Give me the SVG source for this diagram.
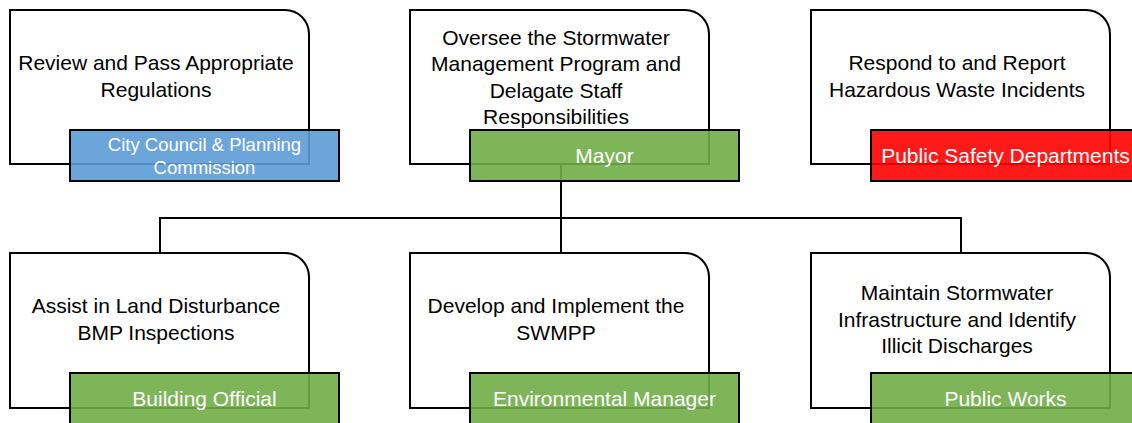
<svg xmlns="http://www.w3.org/2000/svg" width="1132" height="423" viewBox="0 0 1132 423">
<style>
.box{fill:#ffffff;stroke:#000000;stroke-width:2}
.lab{stroke:#000000;stroke-width:2;fill-opacity:0.9}
.blue{fill:#5b9bd5}
.green{fill:#70ad47}
.red{fill:#ff0000}
.t{font-family:"Liberation Sans",Arial,Helvetica,sans-serif;font-size:21px;fill:#000000;text-anchor:middle}
.lt{font-family:"Liberation Sans",Arial,Helvetica,sans-serif;font-size:21px;fill:#ffffff;text-anchor:middle}
.conn{fill:none;stroke:#000000;stroke-width:2}
</style>
<g id="connectors">
<path class="conn" d="M561 164 V218"/>
<path class="conn" d="M160 253 V218 H961 V253"/>
<path class="conn" d="M561 218 V253"/>
</g>
<g id="node-council">
<path class="box" d="M10 10 H285 A24 24 0 0 1 309 34 V164 H10 Z"/>
<text class="t" x="156" y="70">Review and Pass Appropriate</text>
<text class="t" x="156" y="96.5">Regulations</text>
<rect class="lab blue" x="70" y="130" width="269" height="51"/>
<text class="lt" style="font-size:18.5px" x="204.5" y="150.5">City Council &amp; Planning</text>
<text class="lt" style="font-size:18.5px" x="204.5" y="174">Commission</text>
</g>
<g id="node-mayor">
<path class="box" d="M410 10 H685 A24 24 0 0 1 709 34 V164 H410 Z"/>
<text class="t" x="556" y="44.5">Oversee the Stormwater</text>
<text class="t" x="556" y="71">Management Program and</text>
<text class="t" x="556" y="97.5">Delagate Staff</text>
<text class="t" x="556" y="124">Responsibilities</text>
<rect class="lab green" x="470" y="130" width="269" height="51"/>
<text class="lt" x="604.5" y="162.5">Mayor</text>
</g>
<g id="node-safety">
<path class="box" d="M811 10 H1086 A24 24 0 0 1 1110 34 V164 H811 Z"/>
<text class="t" x="957" y="70">Respond to and Report</text>
<text class="t" x="957" y="96.5">Hazardous Waste Incidents</text>
<rect class="lab red" x="871" y="130" width="269" height="51"/>
<text class="lt" x="1005.5" y="162.5">Public Safety Departments</text>
</g>
<g id="node-building">
<path class="box" d="M10 253 H285 A24 24 0 0 1 309 277 V408 H10 Z"/>
<text class="t" x="156" y="313">Assist in Land Disturbance</text>
<text class="t" x="156" y="339.5">BMP Inspections</text>
<rect class="lab green" x="70" y="373" width="269" height="51"/>
<text class="lt" x="204.5" y="405.5">Building Official</text>
</g>
<g id="node-environmental">
<path class="box" d="M410 253 H685 A24 24 0 0 1 709 277 V408 H410 Z"/>
<text class="t" x="556" y="313">Develop and Implement the</text>
<text class="t" x="556" y="339.5">SWMPP</text>
<rect class="lab green" x="470" y="373" width="269" height="51"/>
<text class="lt" x="604.5" y="405.5">Environmental Manager</text>
</g>
<g id="node-publicworks">
<path class="box" d="M811 253 H1086 A24 24 0 0 1 1110 277 V408 H811 Z"/>
<text class="t" x="957" y="300">Maintain Stormwater</text>
<text class="t" x="957" y="326.5">Infrastructure and Identify</text>
<text class="t" x="957" y="353">Illicit Discharges</text>
<rect class="lab green" x="871" y="373" width="269" height="51"/>
<text class="lt" x="1005.5" y="405.5">Public Works</text>
</g>
</svg>
